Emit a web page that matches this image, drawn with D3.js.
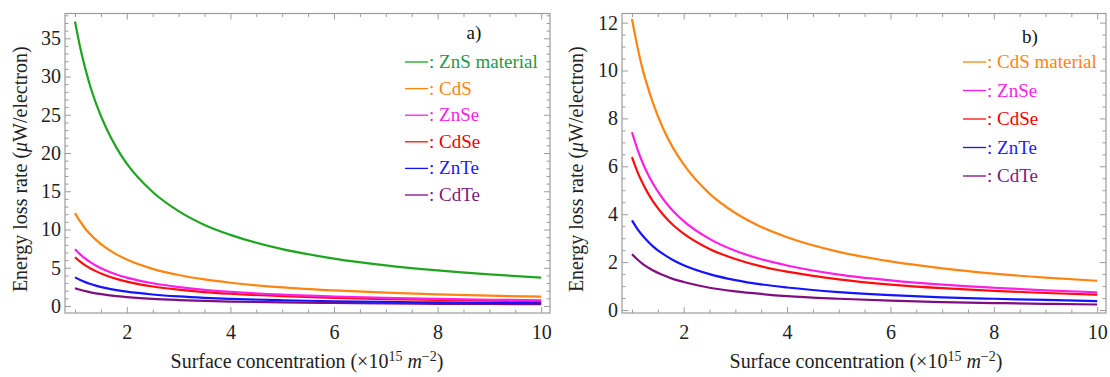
<!DOCTYPE html>
<html>
<head>
<meta charset="utf-8">
<script src="https://cdn.jsdelivr.net/npm/d3@7"></script>
<style>
  html, body { margin: 0; padding: 0; background: #fff; }
  svg { display: block; }
  text { font-family: "Liberation Serif", "Times New Roman", serif; }
</style>
</head>
<body>
<svg id="chart" width="1110" height="377"></svg>
<script>
// Surface concentration (×10^15 m^-2)
const conc = [1, 1.1, 1.2, 1.3, 1.4, 1.6, 1.8, 2, 2.5, 3, 3.5, 4, 5, 6, 7, 8, 9, 10];

// Energy loss rate (µW/electron) for each material
const ZnS  = [37.2, 33.8, 31.0, 28.6, 26.6, 23.3, 20.7, 18.6, 14.9, 12.4, 10.6, 9.30, 7.44, 6.20, 5.31, 4.65, 4.13, 3.72];
const CdS  = [12.15, 11.05, 10.1, 9.35, 8.68, 7.59, 6.75, 6.08, 4.86, 4.05, 3.47, 3.04, 2.43, 2.03, 1.74, 1.52, 1.35, 1.22];
const ZnSe = [7.42, 6.75, 6.18, 5.71, 5.30, 4.64, 4.12, 3.71, 2.97, 2.47, 2.12, 1.86, 1.48, 1.24, 1.06, 0.93, 0.82, 0.74];
const CdSe = [6.38, 5.80, 5.32, 4.91, 4.56, 3.99, 3.54, 3.19, 2.55, 2.13, 1.82, 1.60, 1.28, 1.06, 0.91, 0.80, 0.71, 0.64];
const ZnTe = [3.74, 3.40, 3.12, 2.88, 2.67, 2.34, 2.08, 1.87, 1.50, 1.25, 1.07, 0.94, 0.75, 0.62, 0.53, 0.47, 0.42, 0.37];
const CdTe = [2.33, 2.12, 1.94, 1.79, 1.66, 1.46, 1.29, 1.17, 0.93, 0.78, 0.67, 0.58, 0.47, 0.39, 0.33, 0.29, 0.26, 0.23];

// Tick values
const xMajor = [2, 4, 6, 8, 10];
const yMajorA = [0, 5, 10, 15, 20, 25, 30, 35];
const yMajorB = [0, 2, 4, 6, 8, 10, 12];

const series = {
  ZnS:  { values: ZnS,  line: "#1fa51f", text: "#22994a" },
  CdS:  { values: CdS,  line: "#ff8410", text: "#ff8410" },
  ZnSe: { values: ZnSe, line: "#ff1ee6", text: "#ff1ee6" },
  CdSe: { values: CdSe, line: "#ff0d0d", text: "#f00000" },
  ZnTe: { values: ZnTe, line: "#1414ff", text: "#1a1aff" },
  CdTe: { values: CdTe, line: "#7f0f80", text: "#7a1a7a" }
};

const panels = [
  {
    tag: "a)",
    names: ["ZnS", "CdS", "ZnSe", "CdSe", "ZnTe", "CdTe"],
    firstLabel: ": ZnS material",
    left: 65, right: 550, top: 13.5, bottom: 313,
    yDomain: [-0.915, 38.24], yMajor: yMajorA, yMinorStep: 1,
    yLabelX: 27, xLabelX: 307,
    tagPos: [474, 39],
    legendX: 405, legendY0: 62, legendDy: 26.6
  },
  {
    tag: "b)",
    names: ["CdS", "ZnSe", "CdSe", "ZnTe", "CdTe"],
    firstLabel: ": CdS material",
    left: 622, right: 1106, top: 13.5, bottom: 313,
    yDomain: [-0.125, 12.38], yMajor: yMajorB, yMinorStep: 0.5,
    yLabelX: 583, xLabelX: 866,
    tagPos: [1030, 43],
    legendX: 963, legendY0: 62, legendDy: 28.5
  }
];

const svg = d3.select("#chart");
const frameColor = "#9c9c9c";
const fontSize = 20;
const legendFont = 19;

panels.forEach(p => {
  const x = d3.scaleLinear().domain([0.807, 10.17]).range([p.left, p.right]);
  const y = d3.scaleLinear().domain(p.yDomain).range([p.bottom, p.top]);
  const g = svg.append("g");

  const xMinor = d3.range(1, 10.01, 0.5).filter(v => !xMajor.includes(v));
  const yMax = p.yDomain[1];
  const yMinor = d3.range(0, yMax, p.yMinorStep)
    .map(v => +v.toFixed(3))
    .filter(v => !p.yMajor.includes(v));

  // Frame
  g.append("rect")
    .attr("x", p.left).attr("y", p.top)
    .attr("width", p.right - p.left).attr("height", p.bottom - p.top)
    .attr("fill", "none").attr("stroke", frameColor).attr("stroke-width", 1.2);

  const styleAxis = sel => {
    sel.select(".domain").remove();
    sel.selectAll(".tick line").attr("stroke", frameColor).attr("stroke-width", 1);
    sel.selectAll(".tick text")
      .attr("fill", "#222")
      .style("font-size", fontSize + "px")
      .style("font-family", "'Liberation Serif', serif");
  };

  // Bottom axis: labelled majors, unlabelled minors
  g.append("g").attr("transform", `translate(0,${p.bottom})`)
    .call(d3.axisBottom(x).tickValues(xMajor).tickSizeInner(-6).tickSizeOuter(0).tickPadding(12).tickFormat(d3.format("d")))
    .call(styleAxis);
  g.append("g").attr("transform", `translate(0,${p.bottom})`)
    .call(d3.axisBottom(x).tickValues(xMinor).tickSizeInner(-3.5).tickSizeOuter(0).tickFormat(""))
    .call(styleAxis);
  // Top axis
  g.append("g").attr("transform", `translate(0,${p.top})`)
    .call(d3.axisTop(x).tickValues(xMajor).tickSizeInner(-6).tickSizeOuter(0).tickFormat(""))
    .call(styleAxis);
  g.append("g").attr("transform", `translate(0,${p.top})`)
    .call(d3.axisTop(x).tickValues(xMinor).tickSizeInner(-3.5).tickSizeOuter(0).tickFormat(""))
    .call(styleAxis);
  // Left axis
  g.append("g").attr("transform", `translate(${p.left},0)`)
    .call(d3.axisLeft(y).tickValues(p.yMajor).tickSizeInner(-6).tickSizeOuter(0).tickPadding(4).tickFormat(d3.format("d")))
    .call(styleAxis);
  g.append("g").attr("transform", `translate(${p.left},0)`)
    .call(d3.axisLeft(y).tickValues(yMinor).tickSizeInner(-3.5).tickSizeOuter(0).tickFormat(""))
    .call(styleAxis);
  // Right axis
  g.append("g").attr("transform", `translate(${p.right},0)`)
    .call(d3.axisRight(y).tickValues(p.yMajor).tickSizeInner(-6).tickSizeOuter(0).tickFormat(""))
    .call(styleAxis);
  g.append("g").attr("transform", `translate(${p.right},0)`)
    .call(d3.axisRight(y).tickValues(yMinor).tickSizeInner(-3.5).tickSizeOuter(0).tickFormat(""))
    .call(styleAxis);

  // Curves
  const line = d3.line()
    .x((d, i) => x(conc[i]))
    .y(d => y(d))
    .curve(d3.curveMonotoneX);
  // draw from the lowest curve upward so upper curves sit on top
  p.names.slice().reverse().forEach(n => {
    g.append("path")
      .datum(series[n].values)
      .attr("d", line)
      .attr("fill", "none")
      .attr("stroke", series[n].line)
      .attr("stroke-width", 2.2)
      .attr("stroke-linejoin", "round");
  });

  // Panel tag
  g.append("text")
    .attr("x", p.tagPos[0]).attr("y", p.tagPos[1])
    .attr("text-anchor", "middle")
    .style("font-size", legendFont + "px")
    .attr("fill", "#111")
    .text(p.tag);

  // Legend
  p.names.forEach((n, i) => {
    const cy = p.legendY0 + i * p.legendDy;
    g.append("line")
      .attr("x1", p.legendX).attr("x2", p.legendX + 23)
      .attr("y1", cy).attr("y2", cy)
      .attr("stroke", series[n].line).attr("stroke-width", 1.3);
    g.append("text")
      .attr("x", p.legendX + 24).attr("y", cy + 6)
      .style("font-size", legendFont + "px")
      .attr("fill", series[n].text)
      .text(i === 0 ? p.firstLabel : ": " + n);
  });

  // Y axis title
  const yt = g.append("text")
    .attr("transform", `translate(${p.yLabelX},${(p.top + p.bottom) / 2 + 6}) rotate(-90)`)
    .attr("text-anchor", "middle")
    .style("font-size", fontSize + "px")
    .attr("fill", "#222");
  yt.append("tspan").text("Energy loss rate (");
  yt.append("tspan").attr("font-style", "italic").text("\u03bc");
  yt.append("tspan").text("W/electron)");

  // X axis title
  const xt = g.append("text")
    .attr("x", p.xLabelX).attr("y", 368)
    .attr("text-anchor", "middle")
    .style("font-size", fontSize + "px")
    .attr("fill", "#222");
  xt.append("tspan").text("Surface concentration (\u00d710");
  xt.append("tspan").attr("dy", -7).style("font-size", "14px").text("15");
  xt.append("tspan").attr("dy", 7).text(" ");
  xt.append("tspan").attr("font-style", "italic").text("m");
  xt.append("tspan").attr("dy", -7).style("font-size", "14px").text("\u22122");
  xt.append("tspan").attr("dy", 7).text(")");
});
</script>
</body>
</html>
